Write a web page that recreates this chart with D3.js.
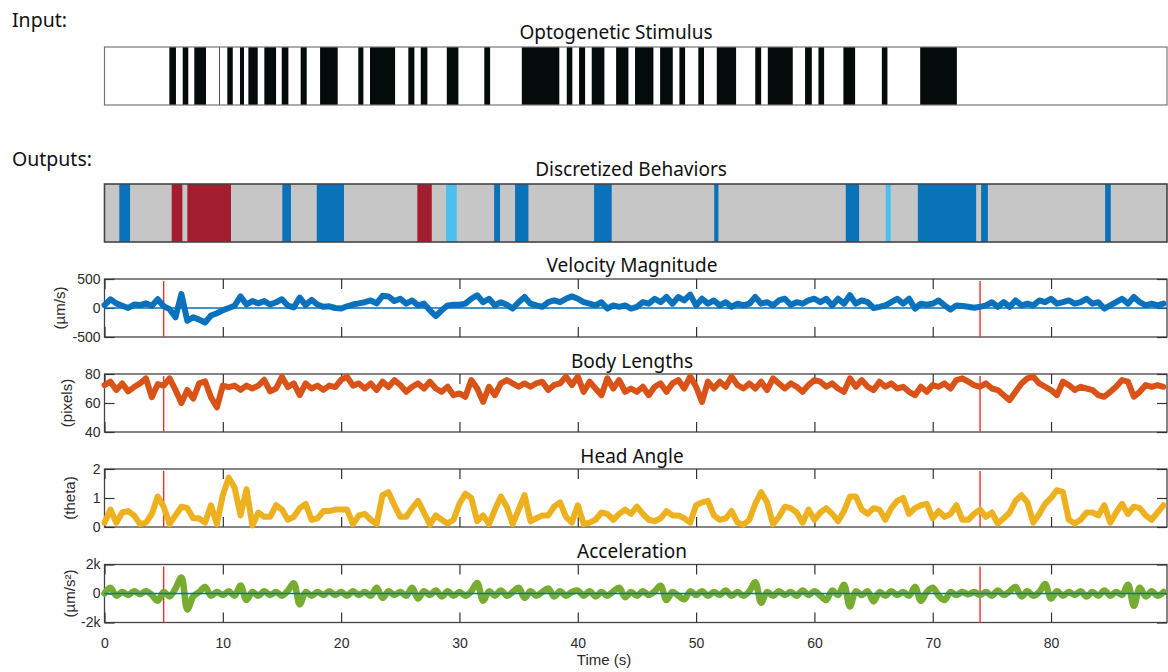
<!DOCTYPE html>
<html>
<head>
<meta charset="utf-8">
<script src="https://cdn.jsdelivr.net/npm/d3@7"></script>
<style>
    body { margin: 0; background: #fff; }
    .title { font-family: "Noto Sans", sans-serif; font-size: 19px; fill: #111; text-anchor: middle; }
    .section { font-family: "Noto Sans", sans-serif; font-size: 19.5px; fill: #111; }
    .axis text { font-family: "Liberation Sans", Arial, sans-serif; font-size: 14px; fill: #2b2b2b; }
    .axis line { stroke: #333; stroke-width: 1.2; }
    .axis path { display: none; }
    .ylabel, .xlabel { font-family: "Liberation Sans", Arial, sans-serif; font-size: 15px; fill: #2b2b2b; text-anchor: middle; }
</style>
</head>
<body>
<div id="chart"></div>
<script>

/* * * * * * * * * * * * *
 *        Data           *
 * * * * * * * * * * * * */

// optogenetic stimulus: light-on intervals (s)
const stimStart = [5.48, 6.61, 7.59, 9.68, 10.38, 11.45, 12.16, 13.51, 14.98, 16.58, 18.22, 21.45, 22.44,
    25.68, 26.73, 28.93, 32.1, 35.27, 39.07, 40.11, 41.18, 43.24, 44.84, 46.96, 48.59, 50.19, 51.75,
    55.0, 56.06, 59.21, 60.34, 62.45, 65.7, 68.94]
const stimEnd = [6.04, 7.08, 8.58, 9.74, 10.84, 11.79, 12.95, 14.5, 15.54, 17.09, 19.71, 21.88, 24.56,
    26.19, 27.29, 29.91, 32.59, 38.44, 39.54, 40.62, 42.25, 44.28, 46.39, 48.03, 49.07, 50.67, 53.38,
    55.5, 58.17, 59.78, 60.82, 63.44, 66.17, 72.04]

// discretized behaviors
const behStart = [1.25, 5.68, 7.0, 15.03, 17.94, 26.44, 28.87, 32.93, 34.7, 41.38, 51.53, 62.65, 66.03, 68.74, 74.09, 84.57]
const behEnd   = [2.16, 6.58, 10.69, 15.76, 20.24, 27.66, 29.77, 33.43, 35.83, 42.87, 51.89, 63.78, 66.45, 73.67, 74.66, 85.05]
const behState = ['fwd', 'rev', 'rev', 'fwd', 'fwd', 'rev', 'turn', 'fwd', 'fwd', 'fwd', 'fwd', 'fwd', 'turn', 'fwd', 'fwd', 'fwd']

// stimulus onset/offset markers (s)
const stimMarks = [5, 74]

// traces, one sample every 0.5 s starting at 0 s
const sampleStep = 0.5

const velocity = [
    50, 150, 80, 40, 0, 60, 50, 80, 40, 150,
    30, -20, -160, 240, -220, -160, -200, -250, -130, -90,
    -40, 0, 40, 200, 60, 120, 80, 120, 60, 100,
    150, 40, 10, 180, 50, 140, 60, 20, 30, 0,
    -10, 30, 60, 80, 100, 130, 80, 210, 200, 120,
    160, 75, 130, 45, 75, -40, -140, -40, 45, 55,
    55, 75, 160, 220, 100, 160, 45, 100, 55, -10,
    100, 190, 75, 45, 20, 100, 130, 100, 160, 200,
    160, 100, 75, 45, 100, -10, 45, 20, 45, -10,
    20, 100, 75, 160, 100, 190, 75, 190, 130, 230,
    45, 160, 75, 130, 45, 100, 20, 75, 45, 75,
    190, 75, 100, 45, 130, 160, 55, 100, 75, 130,
    160, 100, 160, 45, 160, 75, 220, 75, 130, 100,
    0, 20, 45, 100, 160, 75, 160, -10, 75, 55,
    75, 130, 45, -25, 45, 35, 20, 5, 20, 45,
    100, 20, 100, 20, 130, 45, 75, 45, 130, 100,
    160, 75, 100, 130, 75, 100, 160, 75, 100, -10,
    45, 100, 160, 75, 190, 100, 45, 75, 45, 75]

const bodyLength = [
    72.4, 74.7, 69, 73.5, 68, 71, 73.5, 77, 64, 73,
    72, 77, 69, 60, 69, 63, 73.5, 75, 64, 57,
    72, 71, 72, 69, 72, 70, 72, 76, 68, 70,
    78, 71, 73.5, 65.5, 73.5, 70, 72, 69, 72, 71,
    76, 78, 72, 73.5, 70, 73.5, 69, 74.7, 71, 75.8,
    72.4, 67.7, 71.2, 73.5, 70, 74.7, 70, 67.7, 71.2, 65.4,
    66.6, 64.3, 75.8, 70, 60.8, 71.2, 65.4, 73.5, 75.8, 73.5,
    71.2, 73.5, 71.2, 73.5, 74.7, 68.9, 72.4, 73.5, 78.2, 72.4,
    78.2, 67.7, 74.7, 70, 65.4, 77, 70, 75.8, 67.7, 70,
    67.7, 71.2, 65.4, 71.2, 73.5, 67.7, 73.5, 75.8, 70, 78.2,
    71.2, 60.8, 74.7, 70, 74.7, 71.2, 78.2, 72.4, 70, 73.5,
    70, 74.7, 68.9, 77, 73.5, 70, 73.5, 71.2, 67.7, 72.4,
    75.8, 74.7, 71.2, 73.5, 70, 67.7, 77, 71.2, 75.8, 71.2,
    68.9, 74.7, 71.2, 73.5, 70, 71.2, 67.7, 65.4, 71.2, 67.7,
    72.4, 71.2, 73.5, 70, 75.8, 77, 74.7, 72.4, 71.2, 73.5,
    70, 68.9, 65.4, 62, 67.7, 73.5, 77, 78.2, 73.5, 71.2,
    68.9, 65.4, 74.7, 72.4, 68.9, 71.2, 70, 68.9, 65.4, 64.3,
    67.7, 71.2, 75.8, 74.7, 64.3, 67.7, 72.4, 71.2, 72.4, 71.2]

const headAngle = [
    0.15, 0.6, 0.15, 0.5, 0.55, 0.4, 0.1, 0.15, 0.45, 1.05,
    0.7, 0.1, 0.4, 0.7, 0.65, 0.3, 0.3, 0.15, 0.75, 0.1,
    1.1, 1.7, 1.35, 0.4, 1.3, 0.05, 0.5, 0.35, 0.35, 0.75,
    0.6, 0.25, 0.35, 0.65, 0.8, 0.25, 0.3, 0.55, 0.55, 0.6,
    0.6, 0.6, 0.1, 0.4, 0.45, 0.25, 0.1, 1.1, 1.2, 0.75,
    0.35, 0.35, 0.65, 0.9, 0.5, 0.08, 0.4, 0.25, 0.12, 0.25,
    0.8, 1.15, 1.0, 0.2, 0.4, 0.1, 0.6, 1.05, 0.7, 0.1,
    0.6, 1.1, 0.2, 0.3, 0.4, 0.4, 0.7, 0.85, 0.35, 0.15,
    0.75, 0.1, 0.15, 0.25, 0.5, 0.45, 0.25, 0.45, 0.6, 0.45,
    0.7, 0.45, 0.25, 0.2, 0.3, 0.55, 0.4, 0.4, 0.3, 0.15,
    0.75, 0.85, 0.9, 0.4, 0.25, 0.3, 0.55, 0.15, 0.08, 0.25,
    0.8, 1.2, 0.85, 0.1, 0.35, 0.7, 0.65, 0.5, 0.15, 0.6,
    0.25, 0.5, 0.65, 0.45, 0.2, 0.55, 1.05, 1.05, 0.6, 0.45,
    0.65, 0.6, 0.25, 0.65, 0.9, 1.0, 0.45, 0.65, 0.75, 0.8,
    0.3, 0.55, 0.35, 0.45, 0.75, 0.25, 0.25, 0.45, 0.6, 0.35,
    0.5, 0.12, 0.3, 0.5, 0.9, 1.1, 0.85, 0.15, 0.45, 0.8,
    1.0, 1.27, 1.2, 0.25, 0.12, 0.25, 0.5, 0.5, 0.4, 0.75,
    0.15, 0.5, 0.8, 0.45, 0.7, 0.65, 0.4, 0.25, 0.5, 0.75]

const acceleration = [
    0, 400, -150, 100, -100, 150, -50, 150, -100, -500,
    100, -200, 350, 1100, -1100, -200, 100, 450, -150, 100,
    -100, 150, -150, 550, -450, 100, -150, 150, -100, 100,
    -150, 200, 700, -750, 100, -150, 100, -100, 150, -100,
    100, -150, 150, -100, 100, -150, 400, -300, 150, -100,
    100, -150, 400, -350, 150, -100, 200, -200, 150, -150,
    100, -150, 150, 730, -500, 150, -150, 200, -150, 100,
    400, -300, 150, -150, 100, 350, -200, 150, -150, 100,
    200, -150, 150, -200, 100, -150, 150, 400, -250, 100,
    -150, 150, -100, 150, 540, -450, 100, -150, -400, 150,
    -100, 150, -150, 100, -100, 200, -150, 100, -150, 150,
    780, -640, 100, -150, 150, -100, 100, -150, 200, -100,
    150, -150, -450, 200, -100, 600, -900, 150, -100, 150,
    -550, 100, -150, 150, -100, 100, -150, 450, -500, 100,
    400, -150, -450, 100, -100, 100, -50, 100, -100, 100,
    -150, 200, -100, 150, 450, -200, 150, -150, 100, 650,
    -350, 150, -150, 100, -100, 150, -200, 100, -150, 200,
    -150, 100, -100, 600, -850, 400, -200, 150, -150, 100]

const timeTicks = [0, 10, 20, 30, 40, 50, 60, 70, 80]


/* * * * * * * * * * * * *
 *       Drawing         *
 * * * * * * * * * * * * */

const width = 1168
const height = 672

const svg = d3.select('#chart')
    .append('svg')
    .attr('width', width)
    .attr('height', height)

// shared time scale for every row
const x = d3.scaleLinear()
    .domain([0, 89.8])
    .range([104.5, 1167])

const behColors = { fwd: '#0a72b9', rev: '#a31d30', turn: '#4cbfee' }

svg.append('text').attr('class', 'section').attr('x', 12).attr('y', 27).text('Input:')
svg.append('text').attr('class', 'section').attr('x', 12).attr('y', 166).text('Outputs:')

// stimulus / behavior barcode rows
function drawBarcode(top, h, starts, ends, fillFor, background, frameColor, frameWidth) {
    let g = svg.append('g')
    g.append('rect')
        .attr('x', x(0)).attr('y', top)
        .attr('width', x.range()[1] - x(0)).attr('height', h)
        .attr('fill', background)
    g.selectAll('.seg')
        .data(starts.map((s, i) => ({ start: s, end: ends[i], i: i })))
        .enter()
        .append('rect')
        .attr('class', 'seg')
        .attr('x', d => x(d.start))
        .attr('y', top)
        .attr('width', d => Math.max(0.7, x(d.end) - x(d.start)))
        .attr('height', h)
        .attr('fill', d => fillFor(d))
    g.append('rect')
        .attr('x', x(0)).attr('y', top)
        .attr('width', x.range()[1] - x(0)).attr('height', h)
        .attr('fill', 'none')
        .attr('stroke', frameColor)
        .attr('stroke-width', frameWidth)
}

svg.append('text').attr('class', 'title').attr('x', 616).attr('y', 39).text('Optogenetic Stimulus')
drawBarcode(47, 58, stimStart, stimEnd, () => '#050a0a', '#fff', '#777', 1.2)

svg.append('text').attr('class', 'title').attr('x', 631).attr('y', 176).text('Discretized Behaviors')
drawBarcode(184, 58, behStart, behEnd, d => behColors[behState[d.i]], '#c6c6c6', '#444', 1.6)


class TracePanel {
    constructor(opts) {
        this.opts = opts
        this.initVis()
    }

    initVis() {
        let vis = this
        let o = vis.opts

        vis.top = o.top
        vis.bottom = o.top + o.height

        vis.y = d3.scaleLinear()
            .domain(o.domain)
            .range([vis.bottom, vis.top])

        vis.g = svg.append('g')

        svg.append('text')
            .attr('class', 'title')
            .attr('x', 632)
            .attr('y', o.titleY)
            .text(o.title)

        // box with inward ticks on all four sides
        vis.g.append('rect')
            .attr('x', x(0)).attr('y', vis.top)
            .attr('width', x.range()[1] - x(0)).attr('height', o.height)
            .attr('fill', 'none')
            .attr('stroke', '#444')
            .attr('stroke-width', 1.3)

        vis.g.append('g')
            .attr('class', 'axis x-axis')
            .attr('transform', `translate(0, ${vis.bottom})`)
            .call(d3.axisBottom(x).tickValues(timeTicks).tickSizeInner(-10).tickSizeOuter(0)
                .tickPadding(16).tickFormat(o.showTime ? d3.format('d') : ''))

        vis.g.append('g')
            .attr('class', 'axis x-axis-top')
            .attr('transform', `translate(0, ${vis.top})`)
            .call(d3.axisTop(x).tickValues(timeTicks).tickSizeInner(-10).tickSizeOuter(0).tickFormat(''))

        vis.g.append('g')
            .attr('class', 'axis y-axis')
            .attr('transform', `translate(${x(0)}, 0)`)
            .call(d3.axisLeft(vis.y).tickValues(o.ticks).tickSizeInner(-10).tickSizeOuter(0)
                .tickPadding(4).tickFormat((d, i) => o.tickLabels[i]))

        vis.g.append('g')
            .attr('class', 'axis y-axis-right')
            .attr('transform', `translate(${x.range()[1]}, 0)`)
            .call(d3.axisRight(vis.y).tickValues(o.ticks).tickSizeInner(-10).tickSizeOuter(0).tickFormat(''))

        svg.append('text')
            .attr('class', 'ylabel')
            .attr('transform', `translate(${o.labelX}, ${(vis.top + vis.bottom) / 2}) rotate(-90)`)
            .attr('dy', '0.35em')
            .text(o.label)

        vis.wrangleData()
    }

    wrangleData() {
        let vis = this
        vis.points = vis.opts.values.map((v, i) => ({ t: i * sampleStep, v: v }))
        vis.updateVis()
    }

    updateVis() {
        let vis = this
        let o = vis.opts

        // stimulus markers sit under the trace
        vis.g.selectAll('.mark')
            .data(stimMarks)
            .enter()
            .append('line')
            .attr('class', 'mark')
            .attr('x1', d => x(d)).attr('x2', d => x(d))
            .attr('y1', vis.top + 2).attr('y2', vis.bottom)
            .attr('stroke', '#ff2a2a')
            .attr('stroke-width', 1.4)

        let line = d3.line()
            .x(d => x(d.t))
            .y(d => vis.y(d.v))
            .curve(o.smooth ? d3.curveCatmullRom : d3.curveLinear)

        vis.g.append('path')
            .datum(vis.points)
            .attr('d', line)
            .attr('fill', 'none')
            .attr('stroke', o.color)
            .attr('stroke-width', o.strokeWidth)
            .attr('stroke-linejoin', 'round')
            .attr('stroke-linecap', 'round')

        // thin zero reference on top of signed traces
        if (o.zeroLine) {
            vis.g.append('line')
                .attr('x1', x(0)).attr('x2', x.range()[1])
                .attr('y1', vis.y(0)).attr('y2', vis.y(0))
                .attr('stroke', '#0072bd')
                .attr('stroke-width', 1.4)
        }
    }
}

new TracePanel({
    title: 'Velocity Magnitude', titleY: 272, top: 279, height: 58,
    domain: [-500, 500], ticks: [-500, 0, 500], tickLabels: ['-500', '0', '500'],
    label: '(µm/s)', labelX: 60, values: velocity, color: '#0a72bd', strokeWidth: 6, zeroLine: true
})

new TracePanel({
    title: 'Body Lengths', titleY: 368, top: 374, height: 58,
    domain: [40, 80], ticks: [40, 60, 80], tickLabels: ['40', '60', '80'],
    label: '(pixels)', labelX: 67, values: bodyLength, color: '#d95319', strokeWidth: 6
})

new TracePanel({
    title: 'Head Angle', titleY: 463, top: 469, height: 58,
    domain: [0, 2], ticks: [0, 1, 2], tickLabels: ['0', '1', '2'],
    label: '(theta)', labelX: 70, values: headAngle, color: '#edb120', strokeWidth: 6
})

new TracePanel({
    title: 'Acceleration', titleY: 558, top: 564.5, height: 58,
    domain: [-2000, 2000], ticks: [-2000, 0, 2000], tickLabels: ['-2k', '0', '2k'],
    label: '(µm/s²)', labelX: 70, values: acceleration, color: '#77ac30', strokeWidth: 6.5,
    zeroLine: true, smooth: true, showTime: true
})

svg.append('text')
    .attr('class', 'xlabel')
    .attr('x', 604)
    .attr('y', 665)
    .text('Time (s)')

</script>
</body>
</html>
